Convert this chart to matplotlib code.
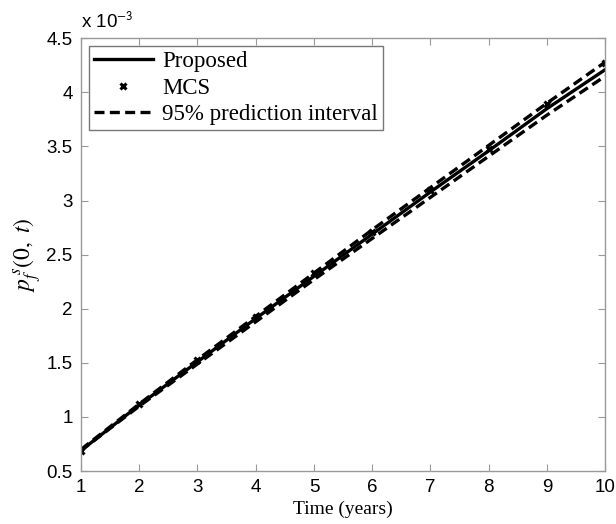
import numpy as np
import matplotlib
matplotlib.use("Agg")
import matplotlib.pyplot as plt
from matplotlib.ticker import FuncFormatter

plt.rcParams['mathtext.fontset'] = 'stix'

# data (in units of 1e-3)
years = [1, 2, 3, 4, 5, 6, 7, 8, 9, 10]
proposed = [0.69, 1.11, 1.51, 1.91, 2.30, 2.69, 3.08, 3.46, 3.85, 4.21]
upper = [0.70, 1.12, 1.53, 1.93, 2.33, 2.73, 3.12, 3.51, 3.90, 4.28]
lower = [0.69, 1.10, 1.49, 1.88, 2.27, 2.65, 3.03, 3.41, 3.79, 4.15]
mcs = [0.69, 1.12, 1.53, 1.92, 2.33, 2.71, 3.10, 3.48, 3.89, 4.27]
scale = 1e-3

fig = plt.figure(figsize=(6.16, 5.24), dpi=100)
ax = fig.add_axes([0.1315, 0.101, 0.851, 0.826])

dash = (0, (3.0, 1.6))
ax.plot(years, np.array(proposed) * scale, 'k-', lw=2.4, label='Proposed')
ax.plot(years, np.array(mcs) * scale, 'kx', ms=5, mew=2.2, label='MCS')
ax.plot(years, np.array(upper) * scale, color='k', ls=dash, lw=2.4,
        label='95% prediction interval')
ax.plot(years, np.array(lower) * scale, color='k', ls=dash, lw=2.4)

ax.set_xlim(1, 10)
ax.set_ylim(0.5e-3, 4.5e-3)
ax.set_xticks(range(1, 11))
ax.set_yticks(np.arange(0.5, 4.51, 0.5) * scale)
ax.yaxis.set_major_formatter(FuncFormatter(lambda v, p: '%g' % round(v / scale, 2)))

for s in ax.spines.values():
    s.set_color('#999999')
    s.set_linewidth(1.0)
ax.tick_params(direction='in', top=True, right=True, color='#999999', length=5,
               labelsize=13.5, labelcolor='black', pad=6)
for lab in ax.get_xticklabels() + ax.get_yticklabels():
    lab.set_family('Liberation Sans')

ax.text(0.0, 1.014, r'x 10$^{\mathsf{-3}}$', transform=ax.transAxes, fontsize=13.5,
        family='Liberation Sans', ha='left', va='bottom')

ax.set_xlabel('Time (years)', family='Liberation Serif', fontsize=14, labelpad=3)
ax.set_ylabel(r'$p_f^{\,s}(0,\ t)$', fontsize=17, labelpad=2)

leg = ax.legend(loc='upper left', prop={'family': 'Liberation Serif', 'size': 16.5},
                frameon=True, fancybox=False, handlelength=2.6, handletextpad=0.4,
                borderpad=0.2, labelspacing=0.25, borderaxespad=0.35)
leg.get_frame().set_edgecolor('#555555')
leg.get_frame().set_linewidth(1.0)

fig.savefig('out.png', dpi=100)
